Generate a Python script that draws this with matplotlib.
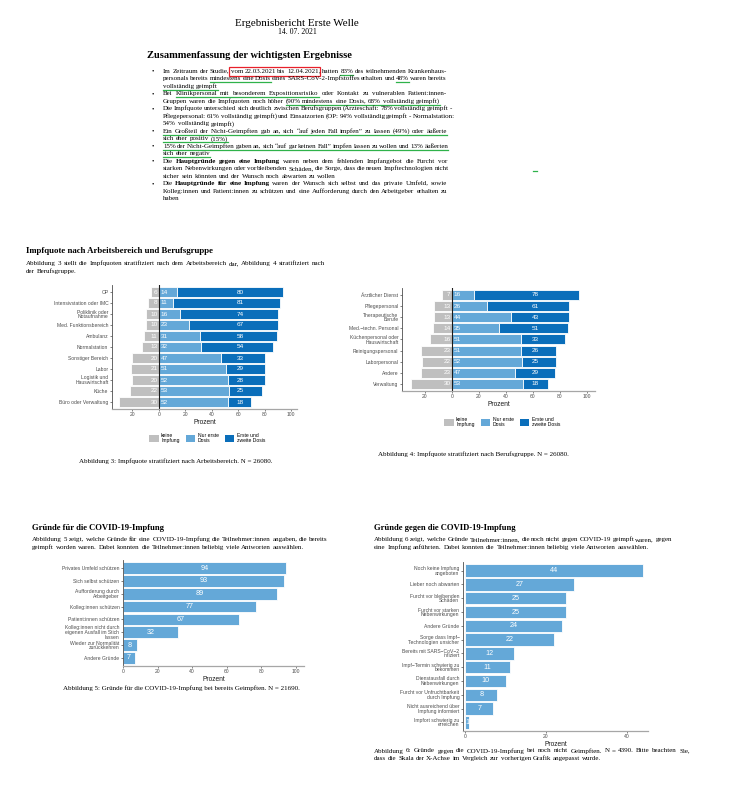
import matplotlib
matplotlib.use("Agg")
import matplotlib.pyplot as plt
from matplotlib.lines import Line2D
from matplotlib.patches import Patch, Rectangle
from matplotlib.ticker import FuncFormatter

# Abbildung 3: Impfquote nach Arbeitsbereich (Prozent)
bereich = ["OP", "Intensivstation oder IMC", "Poliklinik oder\nNotaufnahme",
           "Med. Funktionsbereich", "Ambulanz", "Normalstation", "Sonstiger Bereich",
           "Labor", "Logistik und\nHauswirtschaft", "Küche", "Büro oder Verwaltung"]
bereich_keine = [6, 8, 10, 10, 11, 13, 20, 21, 20, 22, 30]
bereich_erste = [14, 11, 16, 23, 31, 32, 47, 51, 52, 53, 52]
bereich_beide = [80, 81, 74, 67, 58, 54, 33, 29, 28, 25, 18]

# Abbildung 4: Impfquote nach Berufsgruppe (Prozent)
beruf = ["Ärztlicher Dienst", "Pflegepersonal", "Therapeutische\nBerufe",
         "Med.−techn. Personal", "Küchenpersonal oder\nHauswirtschaft",
         "Reinigungspersonal", "Laborpersonal", "Andere", "Verwaltung"]
beruf_keine = [7, 13, 13, 14, 16, 23, 22, 23, 30]
beruf_erste = [16, 26, 44, 35, 51, 51, 52, 47, 53]
beruf_beide = [78, 61, 43, 51, 33, 26, 25, 29, 18]

# Abbildung 5: Gründe für die Impfung
gruende_fuer = ["Privates Umfeld schützen", "Sich selbst schützen",
                "Aufforderung durch\nArbeitgeber", "Kolleg:innen schützen",
                "Patient:innen schützen",
                "Kolleg:innen nicht durch\neigenen Ausfall im Stich\nlassen",
                "Wieder zur Normalität\nzurückkehren", "Andere Gründe"]
gruende_fuer_prozent = [94, 93, 89, 77, 67, 32, 8, 7]

# Abbildung 6: Gründe gegen die Impfung
gruende_gegen = ["Noch keine Impfung\nangeboten", "Lieber noch abwarten",
                 "Furcht vor bleibenden\nSchäden", "Furcht vor starken\nNebenwirkungen",
                 "Andere Gründe", "Sorge dass Impf−\nTechnologien unsicher",
                 "Bereits mit SARS−CoV−2\ninfiziert", "Impf−Termin schwierig zu\nbekommen",
                 "Dienstausfall durch\nNebenwirkungen", "Furcht vor Unfruchtbarkeit\ndurch Impfung",
                 "Nicht ausreichend über\nImpfung informiert", "Impfort schwierig zu\nerreichen"]
gruende_gegen_prozent = [44, 27, 25, 25, 24, 22, 12, 11, 10, 8, 7, 1]

legend_labels = ["keine\nImpfung", "Nur erste\nDosis", "Erste und\nzweite Dosis"]
impf_ticks = [-20, 0, 20, 40, 60, 80, 100]
fuer_ticks = [0, 20, 40, 60, 80, 100]
gegen_ticks = [0, 20, 40]

GRAY, LIGHT, DARK = "#bfbfbf", "#64a8d8", "#0a6eba"
GREEN, RED = "#2fb24a", "#e8202a"
INK = "#000000"
SERIF = ["Liberation Serif", "DejaVu Serif"]
SANS = ["Liberation Sans", "DejaVu Sans"]

plt.rcParams["font.family"] = SANS

W, H = 752, 800
fig = plt.figure(figsize=(W / 100, H / 100), dpi=100)
renderer = fig.canvas.get_renderer()


def fx(x):
    return x / W


def fy(y):
    return 1 - y / H


def measure(s, **kw):
    t = fig.text(0, 0, s, **kw)
    w = t.get_window_extent(renderer).width
    t.remove()
    return w


def fit(s, width, **kw):
    return 10 * width / measure(s, fontsize=10, **kw)


BODY = fit("Abbildung 3: Impfquote stratifiziert nach Arbeitsbereich. N = 26080.", 193,
           family=SERIF)


def text_line(x, y, parts, width=None, size=None):
    # parts: (text, style) with style "" / "b" bold / "u" green underline / "r" red box
    size = size or BODY
    words, glue = [], False
    for idx, (txt, st) in enumerate(parts):
        for j, tok in enumerate(txt.split(" ")):
            if not tok:
                continue
            if j == 0 and glue and words:
                words[-1].append((tok, st, idx))
            else:
                words.append([(tok, st, idx)])
        glue = not txt.endswith(" ")
    kw = dict(fontsize=size, family=SERIF, color=INK)
    widths = [[measure(tok, fontweight="bold" if st == "b" else "normal", **kw)
               for tok, st, _ in w] for w in words]
    total = sum(sum(w) for w in widths)
    space = measure("a a", **kw) - measure("aa", **kw)
    gap = space
    if width is not None and len(words) > 1:
        gap = max((width - total) / (len(words) - 1), 0.6 * space)
    spans = {}
    cx = x
    for w, ws in zip(words, widths):
        for (tok, st, idx), pw in zip(w, ws):
            fig.text(fx(cx), fy(y), tok, ha="left", va="baseline",
                     fontweight="bold" if st == "b" else "normal", **kw)
            a, b = spans.get(idx, (cx, cx))
            spans[idx] = (min(a, cx), max(b, cx + pw))
            cx += pw
        cx += gap
    for idx, (a, b) in spans.items():
        st = parts[idx][1]
        if st == "u":
            fig.add_artist(Line2D([fx(a), fx(b)], [fy(y + 2), fy(y + 2)],
                                  transform=fig.transFigure, color=GREEN, lw=0.9))
        elif st == "r":
            fig.add_artist(Rectangle((fx(a - 1.5), fy(y + 2.8)), (b - a + 3) / W, 9 / H,
                                     transform=fig.transFigure, fill=False,
                                     ec=RED, lw=0.9))


def add_ax(left, top, right, bottom):
    ax = fig.add_axes([fx(left), fy(bottom), (right - left) / W, (bottom - top) / H])
    for s in ("top", "right"):
        ax.spines[s].set_visible(False)
    ax.spines["left"].set_color("#4d4d4d")
    ax.spines["left"].set_linewidth(0.6)
    ax.spines["bottom"].set_color("#a6a6a6")
    ax.spines["bottom"].set_linewidth(0.9)
    ax.tick_params(length=1.6, width=0.5, color="#4d4d4d", pad=1,
                   labelsize=3.6, labelcolor="#4d4d4d")
    return ax


def finish_cats(ax, cats):
    ax.set_yticks(range(len(cats)))
    ax.set_yticklabels(cats, linespacing=0.9)
    ax.set_ylim(len(cats) - 0.4, -0.6)
    ax.set_xlabel("Prozent", fontsize=4.8, color="#1a1a1a", labelpad=1.5)


def impf_chart(box, cats, keine, erste, beide, xlim, legend_xy):
    ax = add_ax(*box)
    y = range(len(cats))
    bar = dict(height=0.9, edgecolor="white", linewidth=0.6)
    ax.barh(y, [-v for v in keine], color=GRAY, **bar)
    ax.barh(y, erste, color=LIGHT, **bar)
    ax.barh(y, beide, left=erste, color=DARK, **bar)
    ax.axvline(0, color="#1a1a1a", lw=0.8)
    lab = dict(va="center", color="white", fontsize=4.6)
    for i in y:
        ax.text(-1, i, str(keine[i]), ha="right", **lab)
        ax.text(1.5, i, str(erste[i]), ha="left", **lab)
        ax.text(61.5, i, str(beide[i]), ha="center", **lab)
    ax.set_xlim(*xlim)
    ax.set_xticks(impf_ticks)
    ax.xaxis.set_major_formatter(FuncFormatter(lambda v, p: f"{abs(v):.0f}"))
    finish_cats(ax, cats)
    handles = [Patch(facecolor=c, edgecolor="none") for c in (GRAY, LIGHT, DARK)]
    ax.legend(handles, legend_labels, loc="center", ncol=3, frameon=False,
              bbox_to_anchor=(fx(legend_xy[0]), fy(legend_xy[1])),
              bbox_transform=fig.transFigure, fontsize=3.6, handlelength=1.9,
              handleheight=1.9, handletextpad=0.5, columnspacing=1.2)
    return ax


def gruende_chart(box, cats, values, xlim, ticks, size):
    ax = add_ax(*box)
    y = range(len(cats))
    ax.barh(y, values, height=0.9, color=LIGHT, edgecolor="white", linewidth=0.6)
    for i, v in zip(y, values):
        ax.text(v / 2, i, str(v), ha="center", va="center", color="white", fontsize=size)
    ax.set_xlim(*xlim)
    ax.set_xticks(ticks)
    finish_cats(ax, cats)
    return ax


def caption(x, y, s):
    fig.text(fx(x), fy(y), s, ha="center", va="baseline", family=SERIF,
             fontsize=BODY, color=INK)


def heading(x, y, s, width):
    fig.text(fx(x), fy(y), s, ha="left", va="baseline", family=SERIF, fontweight="bold",
             color=INK, fontsize=fit(s, width, family=SERIF, fontweight="bold"))


# --- Kopf ---
fig.text(fx(297), fy(26.5), "Ergebnisbericht Erste Welle", ha="center", va="baseline",
         family=SERIF, color=INK,
         fontsize=fit("Ergebnisbericht Erste Welle", 122, family=SERIF))
fig.text(fx(297), fy(33.5), "14. 07. 2021", ha="center", va="baseline",
         family=SERIF, color=INK, fontsize=fit("14. 07. 2021", 39, family=SERIF))
heading(147, 58, "Zusammenfassung der wichtigsten Ergebnisse", 205)

summary = [
    [("Im Zeitraum der Studie, ", ""), ("vom 22.03.2021 bis 12.04.2021", "r"), (", hatten ", ""),
     ("83%", "u"), (" des teilnehmenden Krankenhaus-", "")],
    [("personals bereits ", ""), ("mindestens eine Dosis", "u"),
     (" eines SARS-CoV-2-Impfstoffes erhalten und ", ""), ("48%", "u"), (" waren bereits", "")],
    [("vollständig geimpft", "u")],
    [("Bei ", ""), ("Klinikpersonal mit besonderem Expositionsrisiko", "u"),
     (" oder Kontakt zu vulnerablen Patient:innen-", "")],
    [("Gruppen waren die Impfquoten noch höher ", ""),
     ("(90% mindestens eine Dosis, 68% vollständig geimpft)", "u")],
    [("Die Impfquote unterschied sich deutlich zwischen Berufsgruppen (Ärzteschaft: 78% vollständig geimpft -", "")],
    [("Pflegepersonal: 61% vollständig geimpft) und Einsatzorten (OP: 94% vollständig geimpft - Normalstation:", "")],
    [("54% vollständig geimpft)", "")],
    [("Ein Großteil der Nicht-Geimpften gab an, sich “auf jeden Fall impfen” zu lassen (49%) oder äußerte", "u")],
    [("sich eher positiv (15%)", "u")],
    [("15% der Nicht-Geimpften gaben an, sich “auf gar keinen Fall” impfen lassen zu wollen und 13% äußerten", "u")],
    [("sich eher negativ", "u")],
    [("Die ", ""), ("Hauptgründe gegen eine Impfung", "b"),
     (" waren neben dem fehlenden Impfangebot die Furcht vor", "")],
    [("starken Nebenwirkungen oder vor bleibenden Schäden, die Sorge, dass die neuen Impftechnologien nicht", "")],
    [("sicher sein könnten und der Wunsch noch abwarten zu wollen", "")],
    [("Die ", ""), ("Hauptgründe für eine Impfung", "b"),
     (" waren der Wunsch sich selbst und das private Umfeld, sowie", "")],
    [("Kolleg:innen und Patient:innen zu schützen und eine Aufforderung durch den Arbeitgeber erhalten zu", "")],
    [("haben", "")],
]
bullet_rows = {0, 3, 5, 8, 10, 12, 15}
last_rows = {2, 4, 7, 9, 11, 14, 17}
for k, parts in enumerate(summary):
    yb = 72.8 + 7.5 * k
    if k in bullet_rows:
        fig.text(fx(152), fy(yb), "•", ha="left", va="baseline", family=SERIF,
                 fontsize=BODY, color=INK)
    text_line(163, yb, parts, None if k in last_rows else 284)
fig.add_artist(Line2D([fx(533), fx(537)], [fy(171), fy(171)], transform=fig.transFigure,
                      color=GREEN, lw=0.9))

# --- Impfquote ---
heading(26, 253, "Impfquote nach Arbeitsbereich und Berufsgruppe", 187)
text_line(26, 265, [("Abbildung 3 stellt die Impfquoten stratifiziert nach dem Arbeitsbereich dar, Abbildung 4 stratifiziert nach", "")], 299)
text_line(26, 273, [("der Berufsgruppe.", "")])

impf_chart((112, 285.4, 297, 408.6), bereich, bereich_keine, bereich_erste, bereich_beide,
           (-35.5, 104.5), (207, 438))
caption(175.5, 463.5, "Abbildung 3: Impfquote stratifiziert nach Arbeitsbereich. N = 26080.")

impf_chart((402, 288.3, 595, 390.6), beruf, beruf_keine, beruf_erste, beruf_beide,
           (-37, 106), (502, 422))
caption(473, 456, "Abbildung 4: Impfquote stratifiziert nach Berufsgruppe. N = 26080.")

# --- Gründe für ---
heading(32, 530, "Gründe für die COVID-19-Impfung", 134)
text_line(32, 541, [("Abbildung 5 zeigt, welche Gründe für eine COVID-19-Impfung die Teilnehmer:innen angaben, die bereits", "")], 296)
text_line(32, 549, [("geimpft worden waren. Dabei konnten die Teilnehmer:innen beliebig viele Antworten auswählen.", "")])
gruende_chart((123, 560.3, 304, 665.7), gruende_fuer, gruende_fuer_prozent, (0, 104.6),
              fuer_ticks, 5.2)
caption(181, 690, "Abbildung 5: Gründe für die COVID-19-Impfung bei bereits Geimpften. N = 21690.")

# --- Gründe gegen ---
heading(374, 530, "Gründe gegen die COVID-19-Impfung", 143)
text_line(374, 541, [("Abbildung 6 zeigt, welche Gründe Teilnehmer:innen, die noch nicht gegen COVID-19 geimpft waren, gegen", "")], 298)
text_line(374, 549, [("eine Impfung anführten. Dabei konnten die Teilnehmer:innen beliebig viele Antworten auswählen.", "")])
gruende_chart((463, 562.4, 648, 730.6), gruende_gegen, gruende_gegen_prozent, (-0.5, 45.2),
              gegen_ticks, 5.2)
text_line(374, 752.5, [("Abbildung 6: Gründe gegen die COVID-19-Impfung bei noch nicht Geimpften. N = 4390. Bitte beachten Sie,", "")], 316)
text_line(374, 760, [("dass die Skala der X-Achse im Vergleich zur vorherigen Grafik angepasst wurde.", "")])

fig.savefig("out.png", dpi=100, facecolor="white")
